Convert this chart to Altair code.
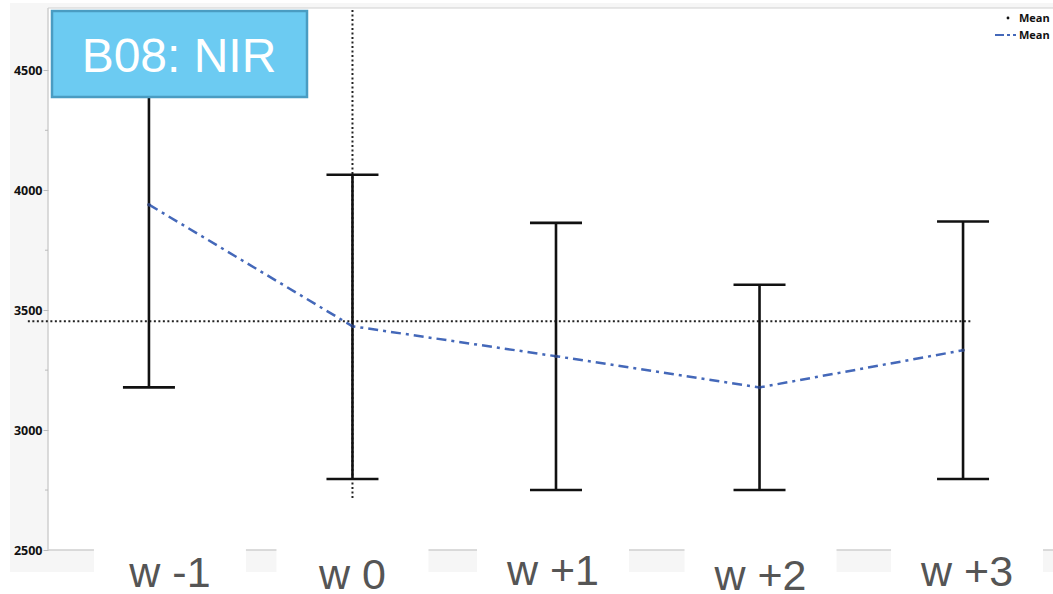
import altair as alt
import pandas as pd

# Weekly NIR reflectance (band B08): mean with its interval
weeks = ["w -1", "w 0", "w +1", "w +2", "w +3"]
means = [3940, 3433, 3308, 3178, 3333]
lower = [3178, 2796, 2750, 2750, 2796]
upper = [4702, 4065, 3864, 3606, 3870]
grand_mean = 3454

# layout of the plot area (pixels)
W, H = 1005, 542
X_MIN, X_MAX = -0.496, 4.442
Y_MIN, Y_MAX = 2500, 4760
PX = W / (X_MAX - X_MIN)  # pixels per x unit

# small horizontal nudges and baselines for the week labels (pixels)
label_shift = [21, 0, -3, 1, 4]
label_base = [579, 581, 577, 582, 578]

df = pd.DataFrame({
    "i": list(range(len(weeks))),
    "week": weeks,
    "mean": means,
    "lo": lower,
    "hi": upper,
    "shift": label_shift,
    "base": label_base,
})

xs = alt.Scale(domain=[X_MIN, X_MAX], nice=False, zero=False)
ys = alt.Scale(domain=[Y_MIN, Y_MAX], nice=False, zero=False)
yaxis = alt.Axis(values=[2500, 3000, 3500, 4000, 4500], title=None, format="d",
                 labelFont="Open Sans", labelFontWeight="bold",
                 labelFontSize=12.5, labelColor="#111111",
                 labelPadding=1, tickSize=5, tickColor="#bbbbbb",
                 domain=False, grid=False, zindex=1)
GREY_BG = "#f6f6f6"
FRAME = "#cfcfcf"


def Y(field):
    return alt.Y(field, scale=ys, axis=yaxis)


base = alt.Chart(df)
one = pd.DataFrame({"a": [0]})

# page background: grey frame around the white plotting region
frame_bg = alt.Chart(one).mark_rect(color=GREY_BG, clip=False).encode(
    x=alt.value(-38), x2=alt.value(W), y=alt.value(-5), y2=alt.value(H + 22)
)
plot_bg = alt.Chart(one).mark_rect(color="white", clip=False).encode(
    x=alt.value(0), x2=alt.value(W), y=alt.value(0), y2=alt.value(H)
)
top_line = alt.Chart(one).mark_rule(color=FRAME, strokeWidth=1.2, clip=False).encode(
    x=alt.value(0), x2=alt.value(W), y=alt.value(0)
)
bottom_line = alt.Chart(one).mark_rule(color=FRAME, strokeWidth=1.5, clip=False).encode(
    x=alt.value(0), x2=alt.value(W), y=alt.value(H)
)
left_line = alt.Chart(one).mark_rule(color=FRAME, strokeWidth=1.5, clip=False).encode(
    x=alt.value(0), y=alt.value(0), y2=alt.value(H)
)

# white boxes behind the week labels
label_boxes = base.transform_calculate(
    bx=f"datum.i + (datum.shift - 76) / {PX}",
    bx2=f"datum.i + (datum.shift + 76) / {PX}",
).mark_rect(color="white", clip=False).encode(
    x=alt.X("bx:Q", scale=xs, axis=None),
    x2="bx2:Q",
    y=alt.value(H - 1),
    y2=alt.value(H + 23),
)

# minor ticks on the value axis
minor = alt.Chart(pd.DataFrame({"v": [2750, 3250, 3750, 4250]})).mark_rule(
    color="#bbbbbb", strokeWidth=1, clip=False
).encode(
    y=Y("v:Q"),
    x=alt.value(-3), x2=alt.value(0),
)

# reference lines: overall mean and the week 0 marker
ref_h = alt.Chart(pd.DataFrame({"x": [-0.595], "x2": [4.045], "y": [grand_mean]})).mark_rule(
    color="#222222", strokeWidth=2, strokeDash=[2, 2.5], clip=False
).encode(
    x=alt.X("x:Q", scale=xs, axis=None), x2="x2:Q",
    y=Y("y:Q"),
)
ref_v = alt.Chart(pd.DataFrame({"x": [1.0], "y": [2717], "y2": [4752]})).mark_rule(
    color="#222222", strokeWidth=2, strokeDash=[2, 2.5]
).encode(
    x=alt.X("x:Q", scale=xs, axis=None),
    y=Y("y:Q"), y2="y2:Q",
)

# interval bars with caps
CAP = 26 / PX
bars = base.mark_rule(color="#111111", strokeWidth=2.6).encode(
    x=alt.X("i:Q", scale=xs, axis=None),
    y=Y("lo:Q"),
    y2="hi:Q",
)
caps_lo = base.transform_calculate(
    c1=f"datum.i - {CAP}", c2=f"datum.i + {CAP}"
).mark_rule(color="#111111", strokeWidth=2.6).encode(
    x=alt.X("c1:Q", scale=xs, axis=None), x2="c2:Q",
    y=Y("lo:Q"),
)
caps_hi = base.transform_calculate(
    c1=f"datum.i - {CAP}", c2=f"datum.i + {CAP}"
).mark_rule(color="#111111", strokeWidth=2.6).encode(
    x=alt.X("c1:Q", scale=xs, axis=None), x2="c2:Q",
    y=Y("hi:Q"),
)

# connecting line through the weekly means
mean_line = base.mark_line(color="#4468b9", strokeWidth=2.5, strokeDash=[10, 5, 3, 5]).encode(
    x=alt.X("i:Q", scale=xs, axis=None),
    y=Y("mean:Q"),
)
mean_pts = base.mark_point(filled=True, color="#2c3f73", size=12, opacity=1).encode(
    x=alt.X("i:Q", scale=xs, axis=None),
    y=Y("mean:Q"),
)

# week labels under the axis
labels = base.transform_calculate(
    lx=f"datum.i + datum.shift / {PX}"
).mark_text(
    font="Liberation Sans", fontSize=43, color="#555555", baseline="alphabetic", clip=False
).encode(
    x=alt.X("lx:Q", scale=xs, axis=None),
    y=alt.Y("base:Q", scale=None),
    text="week:N",
)

# title badge
badge = alt.Chart(one).mark_rect(
    color="#6ccbf2", stroke="#4a9cc2", strokeWidth=2.5, clip=False
).encode(x=alt.value(4), x2=alt.value(259), y=alt.value(3), y2=alt.value(89))
badge_text = alt.Chart(pd.DataFrame({"t": ["B08: NIR"]})).mark_text(
    font="Liberation Sans", fontSize=48, color="white", baseline="alphabetic", clip=False
).encode(x=alt.value(131), y=alt.value(64), text="t:N")

# legend in the upper right corner
leg_txt = alt.Chart(pd.DataFrame({"t": ["Mean", "Mean"], "py": [14, 31]})).mark_text(
    font="Open Sans", fontWeight="bold", fontSize=11, color="#111111",
    align="left", baseline="alphabetic", clip=False
).encode(x=alt.value(971), y=alt.Y("py:Q", scale=None), text="t:N")
leg_dot = alt.Chart(one).mark_point(
    filled=True, color="#111111", size=8, opacity=1
).encode(x=alt.value(960), y=alt.value(10))
leg_line = alt.Chart(one).mark_rule(
    color="#4468b9", strokeWidth=2, strokeDash=[9, 3, 3, 3]
).encode(x=alt.value(947), x2=alt.value(968), y=alt.value(27))

chart = alt.layer(
    frame_bg, plot_bg, bottom_line, label_boxes, top_line, left_line, minor,
    ref_h, ref_v, bars, caps_lo, caps_hi, mean_line, mean_pts,
    labels, badge, badge_text, leg_txt, leg_dot, leg_line,
).properties(
    width=W, height=H,
    autosize=alt.AutoSizeParams(type="none"),
    padding={"left": 48, "top": 8, "right": 0, "bottom": 44},
).configure_view(stroke=None).configure(background="white")

chart.save("out.html", embed_options={"renderer": "svg", "actions": False})
